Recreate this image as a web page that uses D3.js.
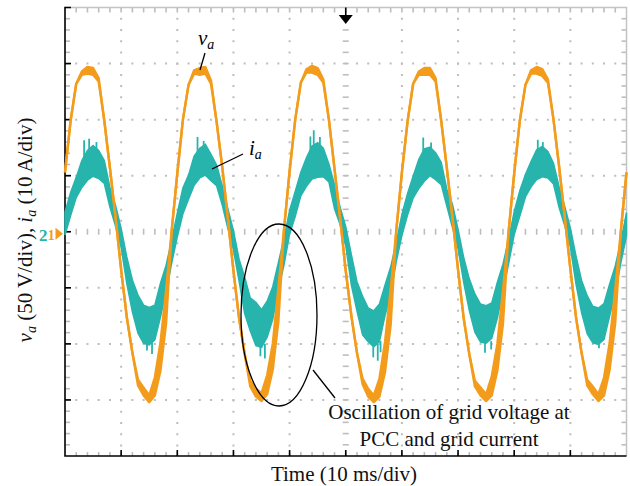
<!DOCTYPE html>
<html lang="en">
<head>
<meta charset="UTF-8" />
<title>Grid voltage and current</title>
<script src="https://d3js.org/d3.v7.min.js"></script>
<style>
  html, body { margin: 0; padding: 0; background: #fff; }
  svg { display: block; font-family: "Liberation Serif", "Times New Roman", serif; }
</style>
</head>
<body>
<svg id="scope" width="630" height="486"></svg>
<script>
// sample instants in ms (1 ms apart, 10 ms/div, 10 divisions)
const timeMs = d3.range(0, 101);

// grid voltage v_a (V)
const va = [
  53, 99, 132, 143, 147, 146, 137, 99, 57, 13, -34, -76, -108, -132, -139, -146, -130, -99, -52, 1,
  52, 100, 131, 144, 146, 147, 135, 98, 58, 12, -35, -77, -109, -133, -140, -144, -128, -100, -50, 2,
  54, 100, 133, 145, 148, 146, 136, 100, 56, 12, -35, -75, -108, -131, -140, -146, -131, -98, -51, 1,
  53, 98, 132, 143, 146, 146, 137, 99, 57, 13, -34, -77, -109, -133, -139, -145, -129, -100, -52, 0,
  52, 99, 131, 144, 147, 145, 136, 100, 58, 13, -33, -76, -108, -132, -138, -145, -130, -99, -51, 1,
  53
];
// lower edge of the noisy voltage band (V)
const vaLow = [
  53, 99, 132, 140, 141, 140, 134, 99, 57, 13, -34, -76, -108, -137, -146, -152, -146, -124, -82, 1,
  52, 100, 131, 141, 140, 141, 132, 98, 58, 12, -35, -77, -109, -138, -147, -151, -145, -123, -80, 2,
  54, 100, 133, 142, 142, 140, 133, 100, 56, 12, -35, -75, -108, -136, -147, -152, -147, -125, -83, 1,
  53, 98, 132, 140, 140, 140, 134, 99, 57, 13, -34, -77, -109, -138, -146, -151, -146, -124, -82, 0,
  52, 99, 131, 141, 141, 139, 133, 100, 58, 13, -33, -76, -108, -137, -145, -151, -146, -123, -81, 1,
  53
];

// grid current i_a (A): upper and lower edge of the noisy band
const iaHi = [
  3.5, 7.0, 9.7, 12.7, 14.5, 15.4, 14.5, 12.7, 7.9, 4.7, 0.6, -4.5, -8.6, -11.3, -13.1, -13.5, -13.1, -9.2, -6.0, -1.5,
  3.3, 7.8, 10.1, 13.5, 14.9, 15.6, 13.8, 11.9, 8.2, 4.1, 0.2, -4.9, -8.1, -11.8, -12.6, -13.9, -12.4, -9.8, -5.5, -1.2,
  3.8, 7.2, 10.6, 13.2, 15.3, 15.9, 14.9, 12.1, 8.4, 4.4, 0.9, -4.1, -8.9, -11.5, -13.6, -14.1, -12.9, -9.5, -6.3, -1.9,
  3.1, 6.8, 9.9, 12.9, 14.8, 15.1, 14.1, 12.4, 7.6, 4.9, 0.4, -4.6, -8.4, -11.1, -12.9, -13.2, -12.7, -9.0, -5.8, -1.4,
  3.6, 7.3, 10.2, 12.5, 14.6, 15.2, 14.3, 12.2, 8.0, 4.5, 0.7, -4.3, -8.7, -11.4, -13.3, -13.6, -12.8, -9.3, -6.1, -1.7,
  3.4
];
const iaLo = [
  -0.6, 2.9, 6.1, 7.9, 9.2, 9.9, 9.5, 8.6, 4.4, 1.0, -2.8, -9.2, -14.3, -18.1, -19.9, -20.2, -19.3, -15.2, -10.8, -5.6,
  -0.9, 3.2, 5.8, 8.3, 9.6, 10.1, 9.1, 8.2, 4.8, 0.6, -3.2, -8.8, -14.6, -17.7, -20.3, -20.6, -18.8, -15.6, -10.4, -5.9,
  -0.4, 2.7, 6.4, 8.1, 9.4, 9.7, 9.8, 8.9, 4.1, 1.3, -2.5, -9.5, -14.1, -18.4, -19.6, -20.5, -19.6, -14.9, -11.1, -5.3,
  -0.7, 3.0, 6.0, 7.7, 9.0, 10.0, 9.3, 8.4, 4.6, 0.8, -3.0, -9.0, -14.0, -17.9, -19.7, -19.9, -19.0, -15.4, -10.6, -5.7,
  -0.5, 2.8, 6.2, 8.0, 9.3, 9.8, 9.6, 8.5, 4.3, 1.1, -2.7, -9.3, -14.4, -18.2, -19.8, -20.1, -19.2, -15.0, -10.9, -5.5,
  -0.7
];

// current spikes: time (ms), start and end (A)
const spikeT    = [3.4, 4.3, 5.6, 23.6, 24.7, 43.7, 44.3, 45.4, 63.8, 65.2, 84.2, 85.1,
                   14.6, 15.5, 34.8, 35.6, 54.9, 55.7, 56.2, 74.8, 75.9, 95.1];
const spikeFrom = [13, 14, 14, 14, 15, 14, 15, 15, 14, 14.5, 14.5, 14.5,
                   -19, -19.5, -19.5, -20, -19.5, -20, -19.5, -19.5, -19.5, -19.5];
const spikeTo   = [16.3, 16.6, 16.0, 16.9, 16.2, 17.0, 18.1, 16.9, 16.8, 15.9, 16.4, 16.0,
                   -21.2, -21.8, -22.2, -22.6, -22.4, -23.0, -21.5, -21.6, -21.0, -20.8];

// divisions
const xDivs = d3.range(0, 11);   // 10 ms per division
const yDivs = d3.range(-4, 5);   // 8 vertical divisions

const orange = "#f39c1c";
const teal = "#27b4ac";
const gridGrey = "#bdbdbd";

const plot = { left: 65, right: 626.5, top: 7.5, bottom: 456 };

const x = d3.scaleLinear().domain([0, 100]).range([plot.left, plot.right]);
const yDiv = d3.scaleLinear().domain([-4, 4]).range([plot.bottom, plot.top]);
const yV = d3.scaleLinear().domain([-200, 200]).range([plot.bottom, plot.top]);
const yI = d3.scaleLinear().domain([-40, 40]).range([plot.bottom, plot.top]);

const minorPx = (x(10) - x(0)) / 5;

const svg = d3.select("#scope");

// dotted grid
const grid = svg.append("g").attr("stroke", gridGrey).attr("stroke-width", 2)
  .attr("stroke-dasharray", `2 ${minorPx - 2}`).attr("stroke-dashoffset", 1);
grid.selectAll(".gx").data(xDivs.filter(d => d > 0 && d < 10 && d !== 5)).join("line")
  .attr("x1", d => x(d * 10)).attr("x2", d => x(d * 10))
  .attr("y1", plot.top).attr("y2", plot.bottom);
grid.selectAll(".gy").data(yDivs.filter(d => d > -4 && d < 4 && d !== 0)).join("line")
  .attr("y1", d => yDiv(d)).attr("y2", d => yDiv(d))
  .attr("x1", plot.left).attr("x2", plot.right);

// minor tick marks on centre lines and frame
const minorX = d3.range(1, 50).map(k => k * 2);        // ms
const minorY = d3.range(-19, 20).map(k => k / 5);       // div
const ticks = svg.append("g").attr("stroke", gridGrey).attr("stroke-width", 1.6);
ticks.selectAll(".cx").data(minorX).join("line")
  .attr("x1", d => x(d)).attr("x2", d => x(d))
  .attr("y1", yDiv(0) - 3).attr("y2", yDiv(0) + 3);
ticks.selectAll(".cy").data(minorY).join("line")
  .attr("y1", d => yDiv(d)).attr("y2", d => yDiv(d))
  .attr("x1", x(50) - 3).attr("x2", x(50) + 3);
ticks.selectAll(".lt").data(minorY).join("line")
  .attr("y1", d => yDiv(d)).attr("y2", d => yDiv(d))
  .attr("x1", plot.left).attr("x2", plot.left + 5);
ticks.selectAll(".rt").data(minorY).join("line")
  .attr("y1", d => yDiv(d)).attr("y2", d => yDiv(d))
  .attr("x1", plot.right - 5).attr("x2", plot.right);
ticks.selectAll(".tt").data(minorX).join("line")
  .attr("x1", d => x(d)).attr("x2", d => x(d))
  .attr("y1", plot.top).attr("y2", plot.top + 5);
ticks.selectAll(".bt").data(minorX).join("line")
  .attr("x1", d => x(d)).attr("x2", d => x(d))
  .attr("y1", plot.bottom - 4).attr("y2", plot.bottom);

// grey top / right frame
svg.append("path")
  .attr("d", `M${plot.left},${plot.top}H${plot.right}V${plot.bottom}`)
  .attr("fill", "none").attr("stroke", "#c4c4c4").attr("stroke-width", 1.5);

// black left and bottom axes with major ticks
const axisG = svg.append("g").attr("stroke", "#000").attr("stroke-width", 1.6);
axisG.append("path")
  .attr("d", `M${plot.left + 6},${plot.top}H${plot.left}V${plot.bottom}H${plot.right}`)
  .attr("fill", "none");
axisG.selectAll(".my").data(yDivs.slice(1, -1)).join("line")
  .attr("y1", d => yDiv(d)).attr("y2", d => yDiv(d))
  .attr("x1", plot.left).attr("x2", plot.left + 6);
axisG.selectAll(".mx").data(xDivs.slice(1, -1)).join("line")
  .attr("x1", d => x(d * 10)).attr("x2", d => x(d * 10))
  .attr("y1", plot.bottom - 6).attr("y2", plot.bottom);

// current band
const iArea = d3.area()
  .x((d, i) => x(timeMs[i]))
  .y0((d, i) => yI(iaLo[i]))
  .y1((d, i) => yI(iaHi[i]));
svg.append("path").datum(timeMs)
  .attr("d", iArea)
  .attr("fill", teal).attr("stroke", teal).attr("stroke-width", 1.5);
svg.append("g").attr("stroke", teal).attr("stroke-width", 1.8)
  .selectAll("line").data(spikeT).join("line")
  .attr("x1", d => x(d)).attr("x2", d => x(d))
  .attr("y1", (d, i) => yI(spikeFrom[i])).attr("y2", (d, i) => yI(spikeTo[i]));

// voltage trace with its noisy band
const vArea = d3.area()
  .x((d, i) => x(timeMs[i]))
  .y0((d, i) => yV(vaLow[i]))
  .y1((d, i) => yV(va[i]));
svg.append("path").datum(timeMs)
  .attr("d", vArea).attr("fill", orange);
const vLine = d3.line().x((d, i) => x(timeMs[i])).y(d => yV(d));
svg.append("path").datum(va).attr("d", vLine)
  .attr("fill", "none").attr("stroke", orange).attr("stroke-width", 2.4)
  .attr("stroke-linejoin", "round");
svg.append("path").datum(vaLow).attr("d", vLine)
  .attr("fill", "none").attr("stroke", orange).attr("stroke-width", 2.4)
  .attr("stroke-linejoin", "round");

// trigger marker (top) and channel ground markers (left)
svg.append("line").attr("x1", x(50)).attr("x2", x(50)).attr("y1", plot.top).attr("y2", 16)
  .attr("stroke", "#000").attr("stroke-width", 1.6);
svg.append("path")
  .attr("d", `M${x(50) - 7},15L${x(50) + 7},15L${x(50)},24Z`).attr("fill", "#000");
svg.append("text").attr("x", 39).attr("y", yDiv(0) + 9)
  .attr("font-size", 17).attr("font-weight", "bold").attr("fill", teal).text("2");
svg.append("text").attr("x", 47.8).attr("y", yDiv(0) + 8)
  .attr("font-size", 14).attr("font-weight", "bold").attr("fill", orange).text("1");
svg.append("path")
  .attr("d", `M55.5,${yDiv(0) - 4}L63,${yDiv(0) + 2}L55.5,${yDiv(0) + 8}Z`).attr("fill", orange);

// annotations
const ink = svg.append("g").attr("fill", "none").attr("stroke", "#000").attr("stroke-width", 1.3);
ink.append("ellipse").attr("cx", 279).attr("cy", 315).attr("rx", 38).attr("ry", 91);
ink.append("line").attr("x1", 313).attr("y1", 370).attr("x2", 335).attr("y2", 398);
ink.append("line").attr("x1", 205).attr("y1", 53).attr("x2", 200).attr("y2", 70);
ink.append("line").attr("x1", 243).attr("y1", 154).attr("x2", 212).attr("y2", 169);

const vaLabel = svg.append("text").attr("x", 198).attr("y", 45).attr("font-size", 21);
vaLabel.append("tspan").attr("font-style", "italic").text("v");
vaLabel.append("tspan").attr("font-style", "italic").attr("font-size", 14).attr("dy", 4).text("a");
const iaLabel = svg.append("text").attr("x", 249).attr("y", 155).attr("font-size", 21);
iaLabel.append("tspan").attr("font-style", "italic").text("i");
iaLabel.append("tspan").attr("font-style", "italic").attr("font-size", 14).attr("dy", 4).text("a");

const note = svg.append("text").attr("text-anchor", "middle").attr("font-size", 21).attr("fill", "#111");
note.append("tspan").attr("x", 449).attr("y", 419).text("Oscillation of grid voltage at");
note.append("tspan").attr("x", 449).attr("y", 445.5).text("PCC and grid current");

// axis titles
svg.append("text").attr("x", 344).attr("y", 481).attr("text-anchor", "middle")
  .attr("font-size", 21).attr("fill", "#111").text("Time (10 ms/div)");

const yTitle = svg.append("text")
  .attr("transform", "translate(32,230) rotate(-90)")
  .attr("text-anchor", "middle").attr("font-size", 21).attr("fill", "#111");
yTitle.append("tspan").attr("font-style", "italic").text("v");
yTitle.append("tspan").attr("font-style", "italic").attr("font-size", 14).attr("dy", 4).text("a");
yTitle.append("tspan").attr("dy", -4).text(" (50 V/div), ");
yTitle.append("tspan").attr("font-style", "italic").text("i");
yTitle.append("tspan").attr("font-style", "italic").attr("font-size", 14).attr("dy", 4).text("a");
yTitle.append("tspan").attr("dy", -4).text(" (10 A/div)");
</script>
</body>
</html>
